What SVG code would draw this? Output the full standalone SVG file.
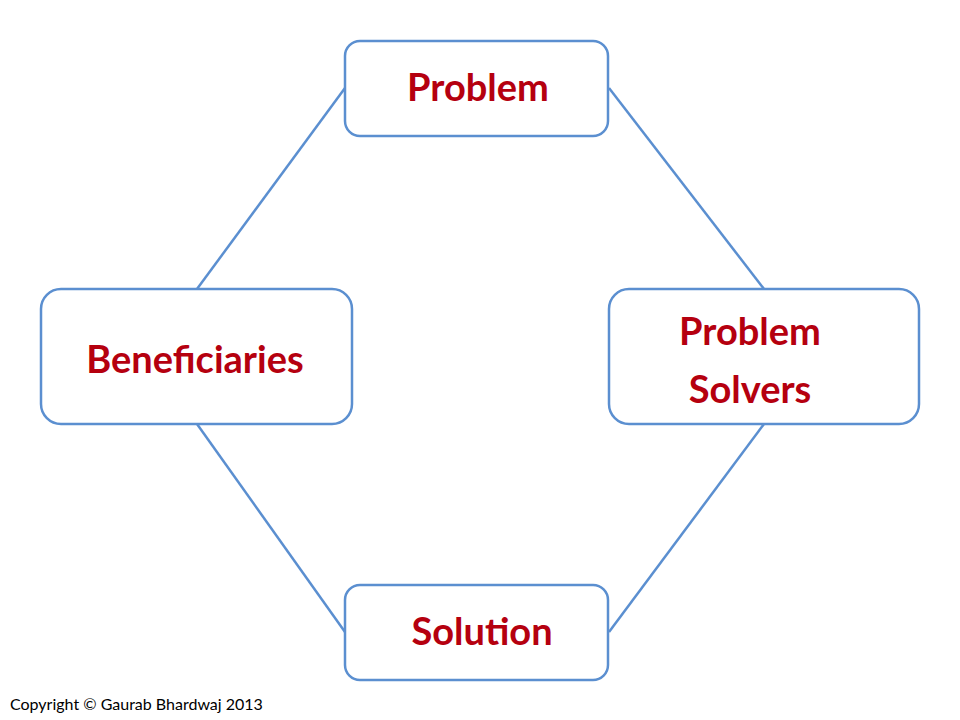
<svg xmlns="http://www.w3.org/2000/svg" width="960" height="720" viewBox="0 0 960 720">
<style>
.box{fill:#fff;stroke:#5b8fd0;stroke-width:2.5}
.lbl{font-family:Lato,"Open Sans",sans-serif;font-weight:bold;font-size:38px;fill:#b5000f;text-anchor:middle}
.con{stroke:#5b8fd0;stroke-width:2.5;fill:none}
</style>
<rect width="960" height="720" fill="#fff"/>
<g id="connectors">
<line class="con" x1="345" y1="88" x2="197" y2="289"/>
<line class="con" x1="609" y1="88" x2="764" y2="289"/>
<line class="con" x1="197" y1="424" x2="345" y2="632"/>
<line class="con" x1="764" y1="424" x2="609" y2="632"/>
</g>
<g id="problem"><rect class="box" x="345" y="41" width="263" height="95" rx="15"/><text class="lbl" x="478" y="101">Problem</text></g>
<g id="beneficiaries"><rect class="box" x="41" y="289" width="311" height="135" rx="20"/><text class="lbl" x="195" y="373">Beneficiaries</text></g>
<g id="solvers"><rect class="box" x="609" y="289" width="310" height="135" rx="20"/><text class="lbl" x="750" y="345">Problem</text><text class="lbl" x="750" y="403">Solvers</text></g>
<g id="solution"><rect class="box" x="345" y="585" width="263" height="95" rx="15"/><text class="lbl" x="482" y="645">Solution</text></g>
<text x="10" y="710" font-family="Lato,'Open Sans',sans-serif" font-size="16" fill="#000">Copyright © Gaurab Bhardwaj 2013</text>
</svg>
